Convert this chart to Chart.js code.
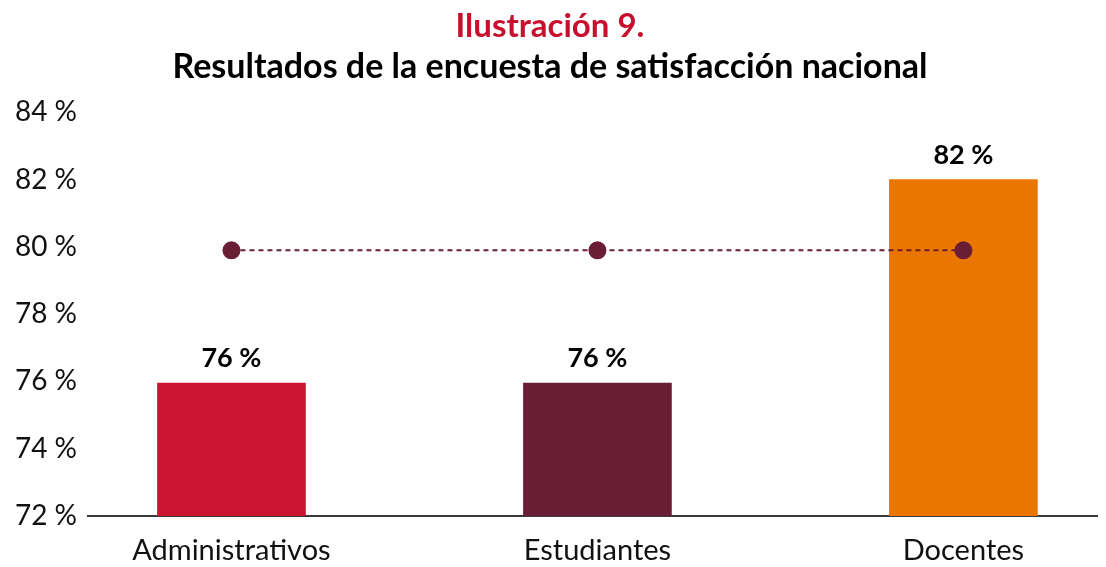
<!DOCTYPE html>
<html>
<head>
<meta charset="utf-8">
<script src="https://cdn.jsdelivr.net/npm/chart.js@4"></script>
<style>
  html, body { margin: 0; padding: 0; background: #fff; }
  .wrap { position: relative; width: 1106px; height: 567px; }
</style>
</head>
<body>
<div class="wrap"><canvas id="chart"></canvas></div>
<script>
const categories = ['Administrativos', 'Estudiantes', 'Docentes'];
const barValues = [75.95, 75.95, 82];
const refValues = [79.9, 79.9, 79.9];
const barLabels = ['76 %', '76 %', '82 %'];
const yTicks = [72, 74, 76, 78, 80, 82, 84];

const barColors = ['#CC1430', '#6A1E35', '#EA7600'];
const maroon = '#6A1E35';
const FONT = 'Lato, "Open Sans", sans-serif';

// draws the value above each bar
const valueLabels = {
  id: 'valueLabels',
  afterDatasetsDraw(chart) {
    const meta = chart.getDatasetMeta(0);
    const ctx = chart.ctx;
    ctx.save();
    ctx.font = 'bold 27px ' + FONT;
    ctx.fillStyle = '#000';
    ctx.textAlign = 'center';
    ctx.textBaseline = 'alphabetic';
    meta.data.forEach((bar, i) => {
      ctx.fillText(barLabels[i], bar.x, bar.y - 16);
    });
    ctx.restore();
  }
};

new Chart(document.getElementById('chart'), {
  data: {
    datasets: [
      {
        type: 'bar',
        data: barValues.map((v, i) => ({ x: i, y: v })),
        backgroundColor: barColors,
        barThickness: 148,
        order: 2
      },
      {
        type: 'line',
        data: refValues.map((v, i) => ({ x: i, y: v })),
        borderColor: maroon,
        borderWidth: 2,
        borderDash: [5, 4],
        pointRadius: 9,
        pointBackgroundColor: maroon,
        pointBorderWidth: 0,
        fill: false,
        order: 1
      }
    ]
  },
  options: {
    responsive: true,
    maintainAspectRatio: false,
    animation: false,
    layout: { padding: { left: 0, right: 6, bottom: 0 } },
    scales: {
      x: {
        type: 'linear',
        offset: false,
        min: -0.392,
        max: 2.365,
        grid: { display: false, drawTicks: false, offset: false },
        border: { display: true, color: '#3a3a3a', width: 2 },
        afterBuildTicks: (scale) => {
          scale.ticks = categories.map((c, i) => ({ value: i }));
        },
        afterFit: (scale) => { scale.height = 51; },
        ticks: {
          padding: 17,
          color: '#111',
          font: { family: FONT, size: 29 },
          callback: (v) => categories[v]
        }
      },
      y: {
        min: 72,
        max: 84,
        grid: { display: false, drawTicks: false },
        border: { display: false },
        afterBuildTicks: (scale) => {
          scale.ticks = yTicks.map(v => ({ value: v }));
        },
        afterFit: (scale) => { scale.width = 88; },
        ticks: {
          padding: 11,
          color: '#111',
          font: { family: FONT, size: 28 },
          callback: (v) => v + ' %'
        }
      }
    },
    plugins: {
      legend: { display: false },
      tooltip: { enabled: false },
      title: {
        display: true,
        text: 'Ilustración 9.',
        color: '#C8102E',
        font: { family: FONT, size: 33, weight: 'bold', lineHeight: 1.2 },
        padding: { top: 7, bottom: 0 }
      },
      subtitle: {
        display: true,
        text: 'Resultados de la encuesta de satisfacción nacional',
        color: '#000',
        font: { family: FONT, size: 34, weight: 'bold', lineHeight: 1.2 },
        padding: { top: 0, bottom: 25 }
      }
    }
  },
  plugins: [valueLabels]
});
</script>
</body>
</html>
